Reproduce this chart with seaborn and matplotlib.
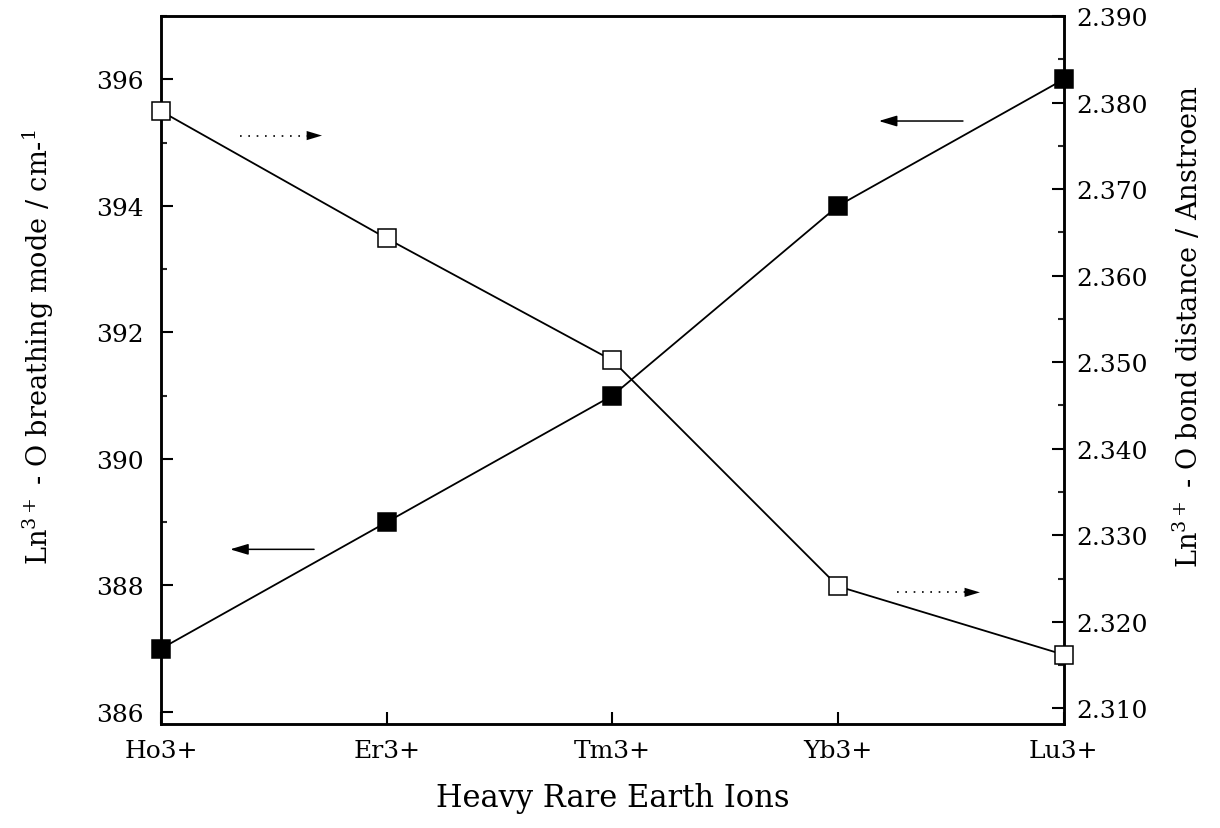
import matplotlib
matplotlib.use("Agg")
import matplotlib.pyplot as plt
import seaborn as sns
import pandas as pd
from matplotlib.ticker import MultipleLocator, FixedLocator, FormatStrFormatter

# Data
ions = ["Ho3+", "Er3+", "Tm3+", "Yb3+", "Lu3+"]
breathing_mode = [387.0, 389.0, 391.0, 394.0, 396.0]      # cm-1, left axis
bond_distance = [2.379, 2.3643, 2.3502, 2.3241, 2.3162]   # Angstroem, right axis

sns.set_style("ticks")
plt.rcParams["font.family"] = ["DejaVu Serif"]
plt.rcParams["mathtext.fontset"] = "dejavuserif"
plt.rcParams["text.color"] = "black"
plt.rcParams["axes.labelcolor"] = "black"

df = pd.DataFrame({"ion": ions, "mode": breathing_mode, "dist": bond_distance})
df["pos"] = range(len(ions))

fig = plt.figure(figsize=(12.2, 8.29), dpi=100)
ax = fig.add_axes([0.132, 0.1255, 0.740, 0.854])
ax2 = ax.twinx()

sns.lineplot(data=df, x="pos", y="mode", ax=ax, color="black", lw=1.3,
             marker="s", markersize=12.5, markerfacecolor="black",
             markeredgecolor="black", markeredgewidth=1.1, clip_on=False, zorder=3)
sns.lineplot(data=df, x="pos", y="dist", ax=ax2, color="black", lw=1.3,
             marker="s", markersize=12.5, markerfacecolor="white",
             markeredgecolor="black", markeredgewidth=1.1, clip_on=False, zorder=3)

ax.set_xlim(0, 4)
ax.set_ylim(385.81, 397.0)
ax2.set_ylim(2.3082, 2.390)

ax.xaxis.set_major_locator(FixedLocator(range(len(ions))))
ax.set_xticklabels(ions)
ax.yaxis.set_major_locator(MultipleLocator(2))
ax.yaxis.set_minor_locator(MultipleLocator(1))
ax2.yaxis.set_major_locator(MultipleLocator(0.01))
ax2.yaxis.set_minor_locator(MultipleLocator(0.005))
ax2.yaxis.set_major_formatter(FormatStrFormatter("%.3f"))

for a in (ax, ax2):
    for s in a.spines.values():
        s.set_linewidth(1.8)
        s.set_color("black")
    a.tick_params(which="major", direction="in", length=8.3, width=1.5,
                  labelsize=18, colors="black", labelcolor="black")
    a.tick_params(which="minor", direction="in", length=4.0, width=1.5)
ax.tick_params(axis="x", top=False, pad=11)
ax.tick_params(axis="y", right=False, which="both", pad=12.5)
ax2.tick_params(axis="y", left=False, which="both", pad=9)

ax.set_xlabel("Heavy Rare Earth Ions", fontsize=22, labelpad=14, color="black")
ax.set_ylabel(r"Ln$^{3+}$ - O breathing mode / cm-$^{1}$", fontsize=19.5, color="black")
ax2.set_ylabel(r"Ln$^{3+}$ - O bond distance / Anstroem", fontsize=19.5, color="black")
ax.yaxis.set_label_coords(-0.1163, 0.534)
ax2.yaxis.set_label_coords(1.1207, 0.562)

# Direction arrows pointing at the axis each curve belongs to
head = dict(arrowstyle="-|>,head_length=1.1,head_width=0.33",
            mutation_scale=10, lw=1.1, color="black", shrinkA=0, shrinkB=0)


def solid_arrow(x0, x1, y):
    ax.annotate("", xy=(x1, y), xytext=(x0, y), arrowprops=head)


def dotted_arrow(x0, x1, y):
    ax.plot([x0, x1], [y, y], color="black", lw=1.2, ls=(0, (1, 4)))
    ax.annotate("", xy=(x1, y), xytext=(x1 - 0.07, y),
                arrowprops=dict(head, lw=0.01))


dotted_arrow(0.350, 0.713, 395.11)
solid_arrow(3.553, 3.180, 395.34)
solid_arrow(0.678, 0.306, 388.57)
dotted_arrow(3.260, 3.628, 387.89)

fig.savefig("out.png", dpi=100)
